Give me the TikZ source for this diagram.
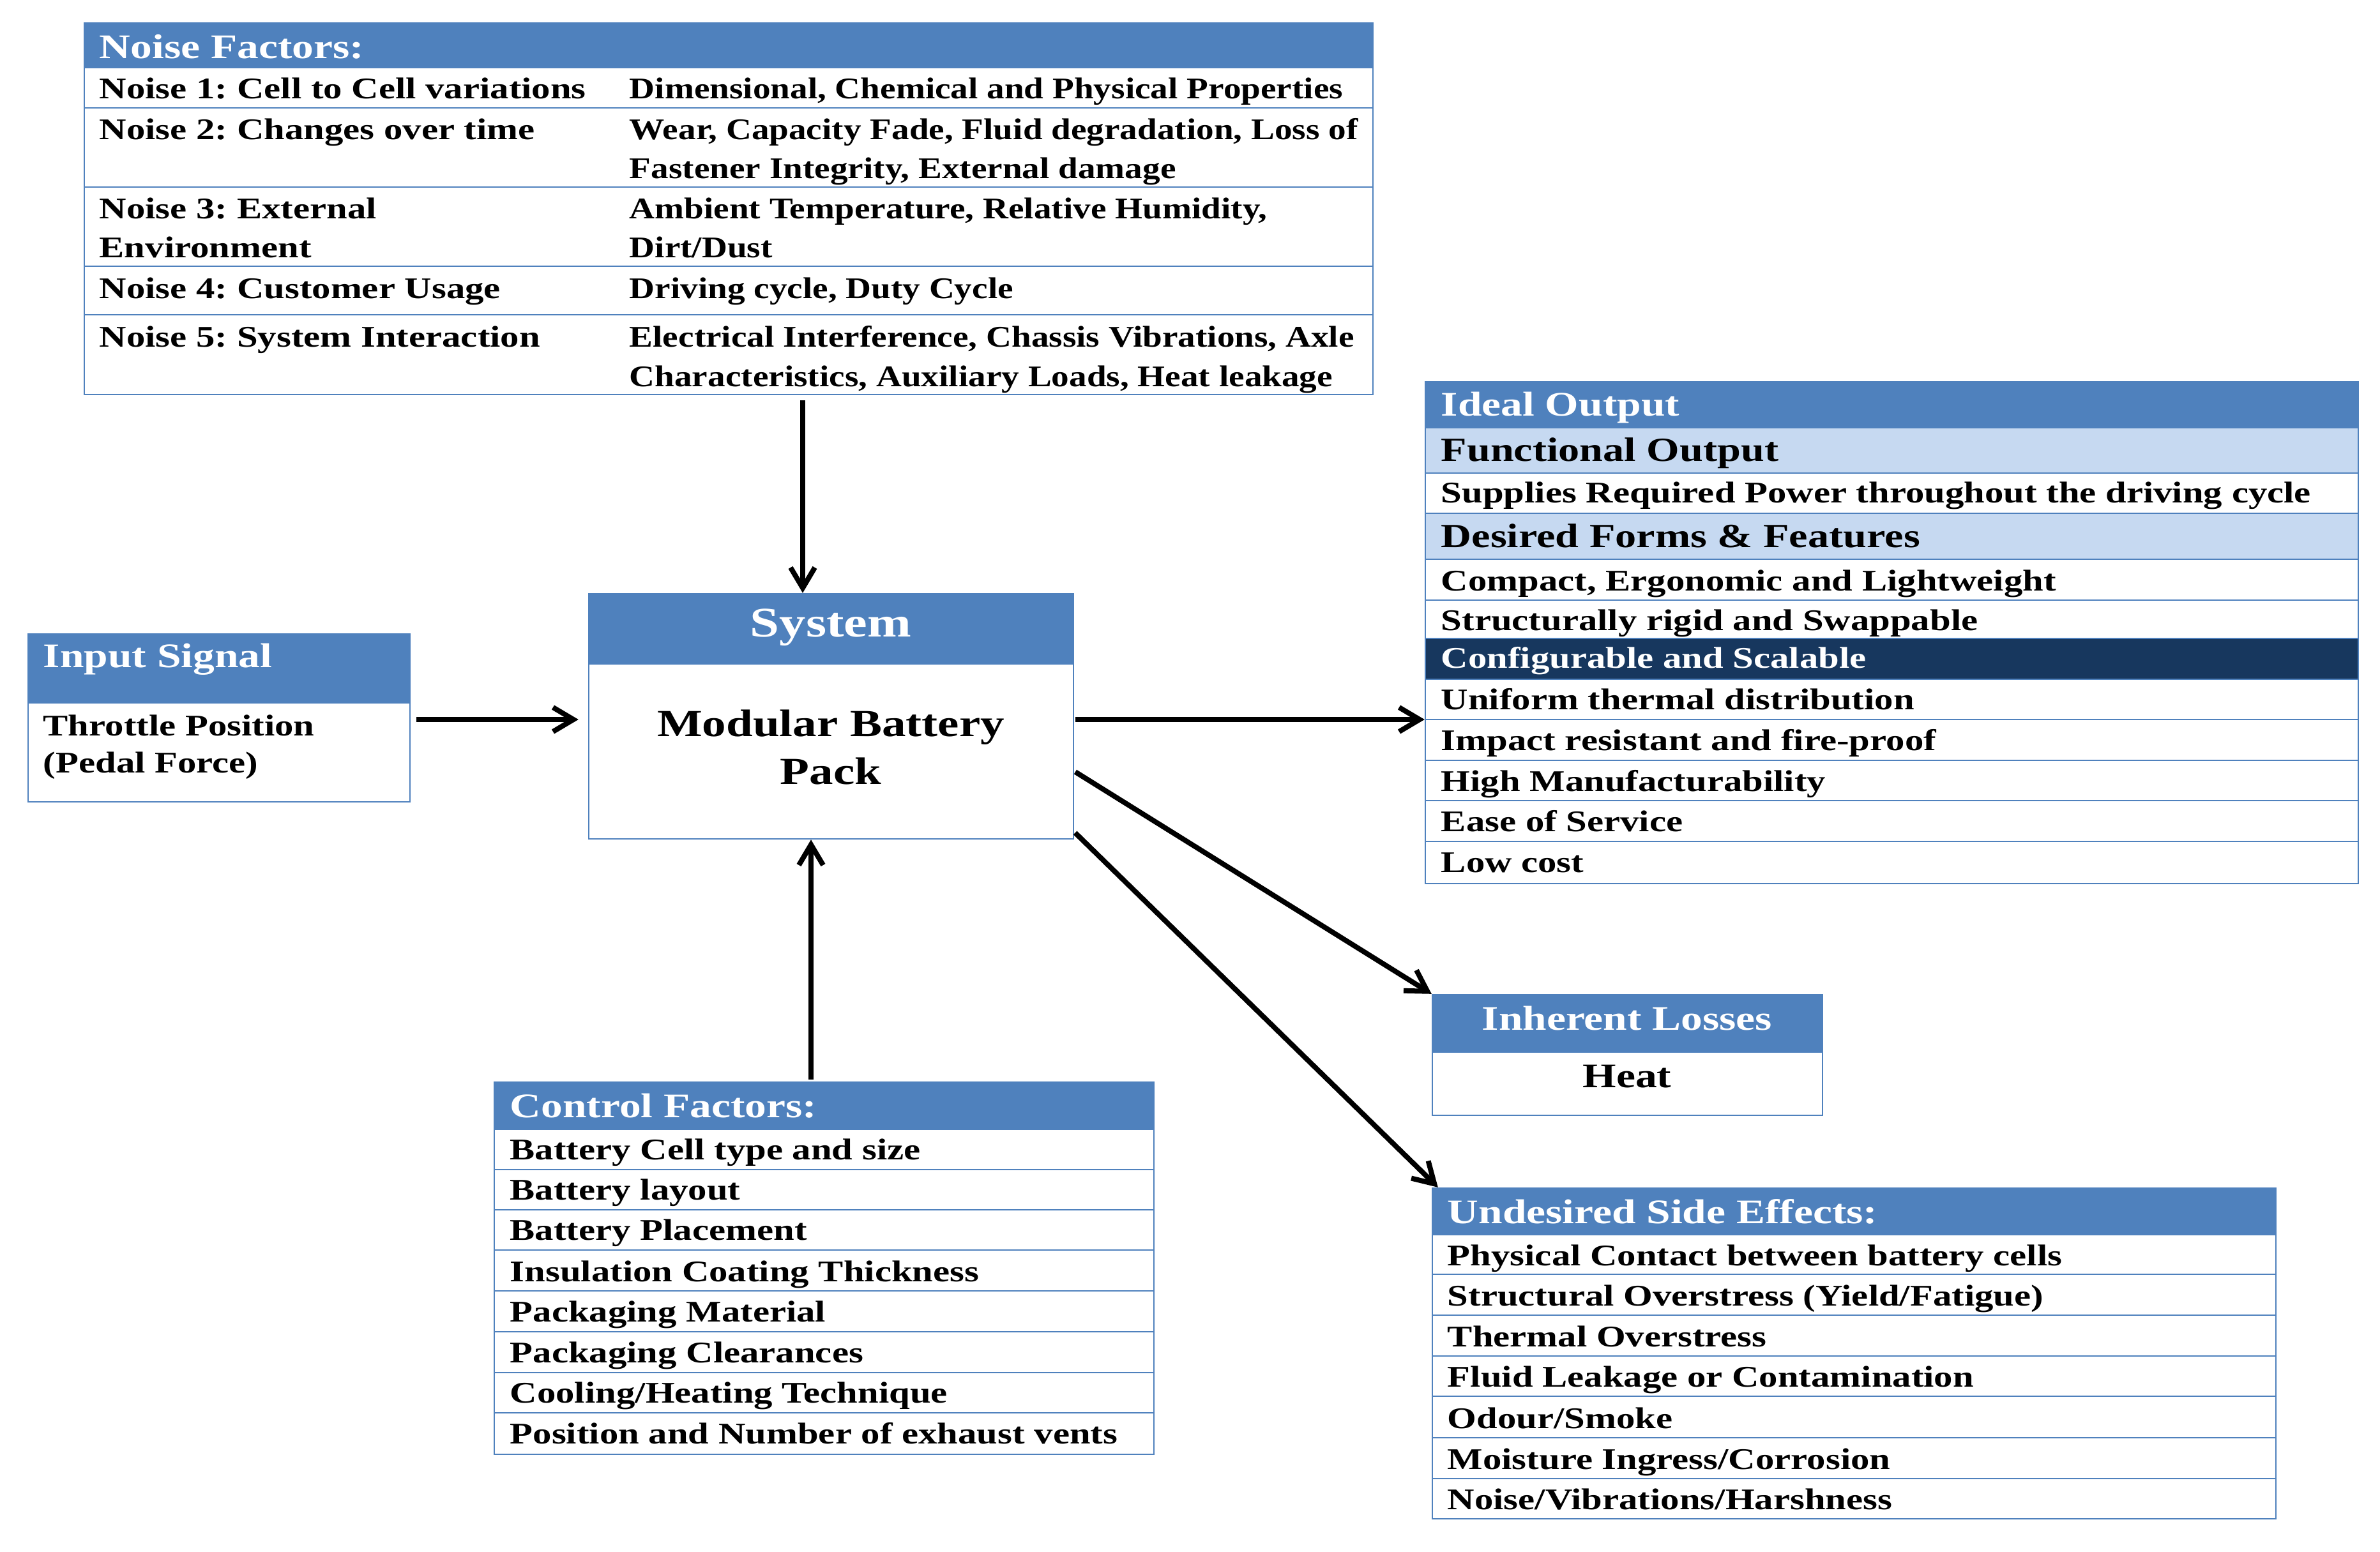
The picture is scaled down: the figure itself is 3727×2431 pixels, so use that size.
\documentclass[tikz,border=0pt]{standalone}
\usepackage{fontspec}
\setmainfont{Liberation Serif}[FakeStretch=1.25]
\newfontfamily\NarrowSerif{Liberation Serif}[FakeStretch=1.175]
\usetikzlibrary{arrows.meta,fit}
\definecolor{hdr}{HTML}{4F81BD}
\definecolor{band}{HTML}{C6D9F1}
\definecolor{navy}{HTML}{17375E}
\definecolor{bord}{HTML}{4F81BD}
\newcommand{\FBody}{\fontsize{11.75pt}{14pt}\selectfont\bfseries}
\newcommand{\FNarrow}{\NarrowSerif\fontsize{11.75pt}{14pt}\selectfont\bfseries}
\newcommand{\FHead}{\fontsize{13.5pt}{16pt}\selectfont\bfseries}
\newcommand{\FSub}{\fontsize{13.25pt}{16pt}\selectfont\bfseries}
\newcommand{\FSys}{\fontsize{16.5pt}{19pt}\selectfont\bfseries}
\newcommand{\FMod}{\fontsize{15pt}{18pt}\selectfont\bfseries}
\begin{document}
\frenchspacing
\begin{tikzpicture}[x=0.25pt,y=-0.25pt,
  tb/.style={anchor=base west, inner sep=0, font=\FBody},
  tn/.style={anchor=base west, inner sep=0, font=\FNarrow},
  th/.style={anchor=base west, inner sep=0, font=\FHead, text=white},
  tsub/.style={anchor=base west, inner sep=0, font=\FSub},
  frame/.style={draw=bord, line width=0.6pt, inner sep=0},
  rule/.style={draw=bord, line width=0.6pt},
  arr/.style={-{Straight Barb[length=8pt,width=9.5pt]}, line width=2pt}]
\fill[white] (0,0) rectangle (3727,2431);
\useasboundingbox (0,0) rectangle (3727,2431);

% ---------------- Noise factors
\fill[hdr] (132,36) rectangle (2150,107);
\foreach \y in {169,293,417,493} \draw[rule] (132,\y) -- (2150,\y);
\node[frame, fit={(132,36) (2150,618)}] (noise) {};
\node[th] (nh) at (155,91) {Noise Factors:};
\node[tb] (n1a) at (155,154) {Noise 1: Cell to Cell variations};
\node[tn] (n1b) at (985,154) {Dimensional, Chemical and Physical Properties};
\node[tb] (n2a) at (155,218) {Noise 2: Changes over time};
\node[tn] (n2b) at (985,218) {Wear, Capacity Fade, Fluid degradation, Loss of};
\node[tn] (n2c) at (985,279) {Fastener Integrity, External damage};
\node[tb] (n3a) at (155,342) {Noise 3: External};
\node[tb] (n3a2) at (155,403) {Environment};
\node[tn] (n3b) at (985,342) {Ambient Temperature, Relative Humidity,};
\node[tn] (n3c) at (985,403) {Dirt/Dust};
\node[tb] (n4a) at (155,467) {Noise 4: Customer Usage};
\node[tn] (n4b) at (985,467) {Driving cycle, Duty Cycle};
\node[tb] (n5a) at (155,543) {Noise 5: System Interaction};
\node[tn] (n5b) at (985,543) {Electrical Interference, Chassis Vibrations, Axle};
\node[tn] (n5c) at (985,605) {Characteristics, Auxiliary Loads, Heat leakage};

% ---------------- Input signal
\fill[hdr] (44,993) rectangle (642,1102);
\node[frame, fit={(44,993) (642,1256)}] (inp) {};
\node[th] (inh1) at (67,1045) {Input Signal};
\node[tb] (in1) at (67,1152) {Throttle Position};
\node[tb] (in2) at (67,1210) {(Pedal Force)};

% ---------------- System
\fill[hdr] (922,930) rectangle (1681,1041);
\node[frame, fit={(922,930) (1681,1314)}] (sys) {};
\node[anchor=base, inner sep=0, font=\FSys, text=white] (syst) at (1301,997) {System};
\node[anchor=base, inner sep=0, font=\FMod] (mod1) at (1301,1153) {Modular Battery};
\node[anchor=base, inner sep=0, font=\FMod] (mod2) at (1301,1228) {Pack};

% ---------------- Ideal output
\fill[hdr] (2232,598) rectangle (3693,670);
\fill[band] (2232,670) rectangle (3693,741);
\fill[band] (2232,804) rectangle (3693,876);
\fill[navy] (2232,1000) rectangle (3693,1064);
\foreach \y in {670,741,804,876,940,1000,1064,1127,1191,1254,1318} \draw[rule] (2232,\y) -- (3693,\y);
\node[frame, fit={(2232,598) (3693,1384)}] (ideal) {};
\node[th] (ih) at (2256,651) {Ideal Output};
\node[tsub] (i1) at (2256,722) {Functional Output};
\node[tb] (i2) at (2256,787) {Supplies Required Power throughout the driving cycle};
\node[tsub] (i3) at (2256,857) {Desired Forms \& Features};
\node[tb] (i4) at (2256,925) {Compact, Ergonomic and Lightweight};
\node[tb] (i5) at (2256,987) {Structurally rigid and Swappable};
\node[tb, text=white] (i6) at (2256,1046) {Configurable and Scalable};
\node[tb] (i7) at (2256,1111) {Uniform thermal distribution};
\node[tb] (i8) at (2256,1175) {Impact resistant and fire-proof};
\node[tb] (i9) at (2256,1239) {High Manufacturability};
\node[tb] (i10) at (2256,1302) {Ease of Service};
\node[tb] (i11) at (2256,1366) {Low cost};

% ---------------- Inherent losses
\fill[hdr] (2243,1558) rectangle (2854,1649);
\node[frame, fit={(2243,1558) (2854,1747)}] (inh) {};
\node[anchor=base, inner sep=0, font=\FHead, text=white] (lh) at (2548,1613) {Inherent Losses};
\node[anchor=base, inner sep=0, font=\FHead] (heat) at (2548,1703) {Heat};

% ---------------- Undesired side effects
\fill[hdr] (2243,1861) rectangle (3564,1934);
\foreach \y in {1934,1996,2060,2124,2187,2252,2316} \draw[rule] (2243,\y) -- (3564,\y);
\node[frame, fit={(2243,1861) (3564,2379)}] (und) {};
\node[th] (uh) at (2266,1916) {Undesired Side Effects:};
\node[tb] (u1) at (2266,1982) {Physical Contact between battery cells};
\node[tb] (u2) at (2266,2045) {Structural Overstress (Yield/Fatigue)};
\node[tb] (u3) at (2266,2109) {Thermal Overstress};
\node[tb] (u4) at (2266,2172) {Fluid Leakage or Contamination};
\node[tb] (u5) at (2266,2237) {Odour/Smoke};
\node[tb] (u6) at (2266,2301) {Moisture Ingress/Corrosion};
\node[tb] (u7) at (2266,2364) {Noise/Vibrations/Harshness};

% ---------------- Control factors
\fill[hdr] (774,1695) rectangle (1807,1769);
\foreach \y in {1769,1832,1895,1958,2022,2086,2150,2213} \draw[rule] (774,\y) -- (1807,\y);
\node[frame, fit={(774,1695) (1807,2278)}] (ctrl) {};
\node[th] (ch) at (798,1750) {Control Factors:};
\node[tb] (c1) at (798,1816) {Battery Cell type and size};
\node[tb] (c2) at (798,1879) {Battery layout};
\node[tb] (c3) at (798,1942) {Battery Placement};
\node[tb] (c4) at (798,2007) {Insulation Coating Thickness};
\node[tb] (c5) at (798,2070) {Packaging Material};
\node[tb] (c6) at (798,2134) {Packaging Clearances};
\node[tb] (c7) at (798,2197) {Cooling/Heating Technique};
\node[tb] (c8) at (798,2261) {Position and Number of exhaust vents};

% ---------------- Connectors
\coordinate (xn) at (1257,0);
\coordinate (xc) at (1270,0);
\coordinate (yio) at (0,1127);
\coordinate (y4) at (0,1208);
\coordinate (y5) at (0,1303);
\draw[arr, shorten <=2pt] (noise.south -| xn) -- (sys.north -| xn);
\draw[arr, shorten <=2.25pt, shorten >=3.75pt] (inp.east |- yio) -- (sys.west |- yio);
\draw[arr, shorten <=0.5pt] (sys.east |- yio) -- (ideal.west |- yio);
\draw[arr, shorten <=0.5pt] (sys.east |- y4) -- (inh.north west);
\draw[arr, shorten <=0.5pt] (sys.east |- y5) -- ([xshift=2.5pt]und.north west);
\draw[arr, shorten <=0.75pt] (ctrl.north -| xc) -- (sys.south -| xc);
\end{tikzpicture}
\end{document}
